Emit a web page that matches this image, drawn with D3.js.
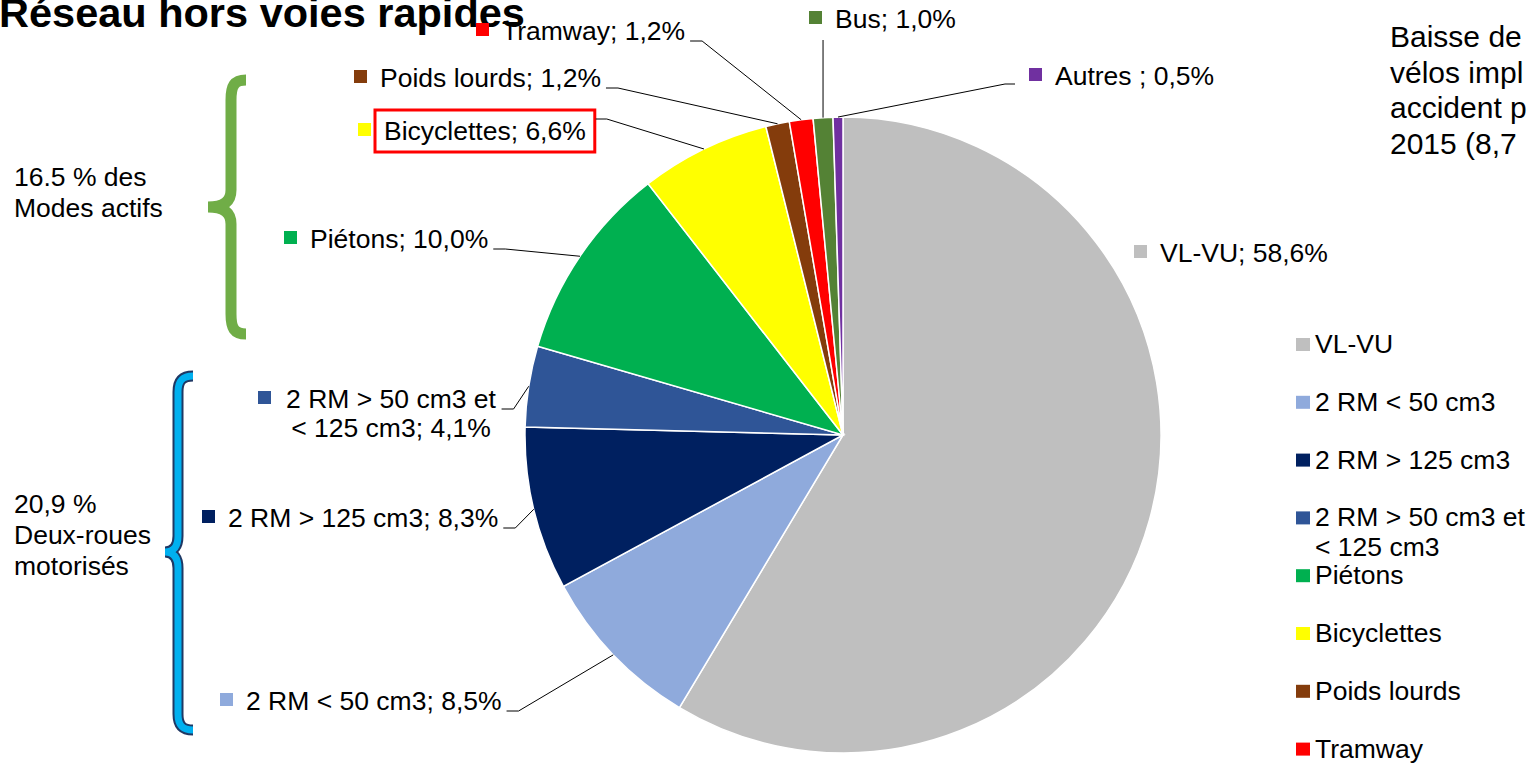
<!DOCTYPE html>
<html>
<head>
<meta charset="utf-8">
<style>
  body { margin: 0; background: #fff; }
  svg text { font-family: "Liberation Sans", Arial, sans-serif; fill: #000; }
</style>
</head>
<body>
<svg id="svg" width="1532" height="764"></svg>

<script src="https://cdn.jsdelivr.net/npm/d3@7"></script>
<script>
// data
const categories = ["VL-VU", "2 RM < 50 cm3", "2 RM > 125 cm3", "2 RM > 50 cm3 et < 125 cm3",
  "Piétons", "Bicyclettes", "Poids lourds", "Tramway", "Bus", "Autres"];
const shares = [58.6, 8.5, 8.3, 4.1, 10.0, 6.6, 1.2, 1.2, 1.0, 0.5];
const colors = ["#bfbfbf", "#8faadc", "#002060", "#2f5597", "#00b050",
  "#ffff00", "#843c0c", "#ff0000", "#548235", "#7030a0"];
const nameLines = [["VL-VU"], ["2 RM < 50 cm3"], ["2 RM > 125 cm3"], ["2 RM > 50 cm3 et", "< 125 cm3"],
  ["Piétons"], ["Bicyclettes"], ["Poids lourds"], ["Tramway"], ["Bus"], ["Autres "]];
const groupNotes = [["16.5 % des", "Modes actifs"], ["20,9 %", "Deux-roues", "motorisés"]];
const noteLines = ["Baisse de", "vélos impl", "accident p", "2015 (8,7"];
const title = "Réseau hors voies rapides";

const fmt = v => d3.format(".1f")(v).replace(".", ",") + "%";

// where each data label sits (text x / baseline) and how its leader goes
const labelPos = [
  {x: 1160, y: 262, lead: "none"},
  {x: 246, y: 710, lead: "left"},
  {x: 228, y: 527, lead: "left"},
  {x: 391, y: 408, lead: "left", anchor: "middle", mx: 258},
  {x: 310, y: 248, lead: "left"},
  {x: 384, y: 140, lead: "box"},
  {x: 380, y: 87, lead: "left"},
  {x: 502, y: 40, lead: "left"},
  {x: 835, y: 28, lead: "down"},
  {x: 1055, y: 85, lead: "right"}
];

const svg = d3.select("#svg");
const FS = 26.5;
const cx = 843, cy = 435, R = 318;

// title (cut at the top like the slide)
svg.append("text").attr("x", -1).attr("y", 27)
  .attr("font-size", 41.5).attr("font-weight", "bold").text(title);

// pie
const pie = d3.pie().sort(null).value(d => d);
const arcs = pie(shares);
const arc = d3.arc().innerRadius(0).outerRadius(R);
const edge = d3.arc().innerRadius(R).outerRadius(R);

const g = svg.append("g").attr("transform", "translate(" + cx + "," + cy + ")");
g.selectAll("path").data(arcs).enter().append("path")
  .attr("d", arc)
  .attr("fill", (d, i) => colors[i])
  .attr("stroke", "#fff")
  .attr("stroke-width", 1.5);

// data labels
const lab = svg.append("g");
arcs.forEach((a, i) => {
  const p = labelPos[i];
  const c = edge.centroid(a);
  const ex = cx + c[0], ey = cy + c[1];
  const lines = nameLines[i].slice();
  lines[lines.length - 1] += "; " + fmt(shares[i]);

  const texts = lines.map((t, k) => lab.append("text")
    .attr("x", p.x).attr("y", p.y + k * 29)
    .attr("font-size", FS)
    .attr("text-anchor", p.anchor || "start")
    .text(t));

  const b0 = texts[0].node().getBBox();
  const mx = p.mx !== undefined ? p.mx : b0.x - 26;
  lab.append("rect").attr("x", mx).attr("y", p.y - 17)
    .attr("width", 13).attr("height", 13).attr("fill", colors[i]);

  let d = null;
  if (p.lead === "left") {
    const sx = b0.x + b0.width + 5;
    d = "M" + sx + "," + (p.y + 1) + "H" + (sx + 12) + "L" + ex + "," + ey;
  } else if (p.lead === "box") {
    const bx = b0.x - 9, by = b0.y - 6, bw = b0.width + 18, bh = b0.height + 12;
    lab.append("rect").attr("x", bx).attr("y", by).attr("width", bw).attr("height", bh)
      .attr("fill", "none").attr("stroke", "#ff0000").attr("stroke-width", 3);
    const sx = bx + bw + 1;
    d = "M" + sx + "," + (by + 9) + "H" + (sx + 11) + "L" + ex + "," + ey;
  } else if (p.lead === "down") {
    d = "M" + ex + "," + (p.y + 12) + "L" + ex + "," + ey;
  } else if (p.lead === "right") {
    const sx = p.x - 40;
    d = "M" + sx + "," + (p.y - 1) + "H" + (sx - 10) + "L" + ex + "," + ey;
  }
  if (d) lab.append("path").attr("d", d).attr("fill", "none")
    .attr("stroke", "#000").attr("stroke-width", 1);
});

// legend on the right
const leg = svg.append("g");
categories.forEach((c, i) => {
  const y = 353 + i * 57.8;
  leg.append("rect").attr("x", 1296).attr("y", y - 15)
    .attr("width", 14).attr("height", 13).attr("fill", colors[i]);
  nameLines[i].forEach((t, k) => {
    leg.append("text").attr("x", 1315).attr("y", y + k * 30)
      .attr("font-size", FS).text(t.trim());
  });
});

// group notes on the left
const gy = [[186, 217], [513, 544, 575]];
groupNotes.forEach((lines, j) => {
  lines.forEach((t, k) => {
    svg.append("text").attr("x", 14).attr("y", gy[j][k]).attr("font-size", FS).text(t);
  });
});

// braces
svg.append("path")
  .attr("d", "M246,80 C234,80 231,86 231,100 L231,190 C231,201 224,207 208,207 C224,207 231,213 231,224 L231,314 C231,328 234,334 246,334")
  .attr("fill", "none").attr("stroke", "#70ad47").attr("stroke-width", 11).attr("stroke-linecap", "butt");

const blue = "M193,376 C182,376 178,381 178,392 L178,536 C178,546 174,552 165,552 C174,552 178,558 178,568 L178,714 C178,725 182,730 193,730";
svg.append("path").attr("d", blue).attr("fill", "none")
  .attr("stroke", "#1f3864").attr("stroke-width", 11);
svg.append("path").attr("d", blue).attr("fill", "none")
  .attr("stroke", "#00b0f0").attr("stroke-width", 7);

// note top right (cut by the frame)
noteLines.forEach((t, k) => {
  svg.append("text").attr("x", 1390).attr("y", 47 + k * 35.5).attr("font-size", 30).text(t);
});
</script>
</body>
</html>
